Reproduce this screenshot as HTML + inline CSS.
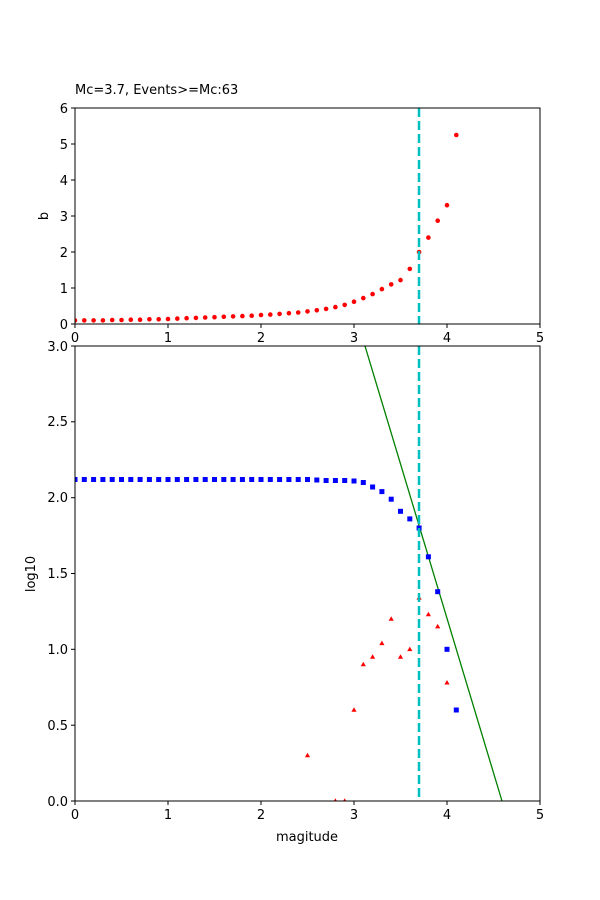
<!DOCTYPE html>
<html><head><meta charset="utf-8"><style>html,body{margin:0;padding:0;background:#fff}svg{display:block}text{font-family:"DejaVu Sans","Liberation Sans",sans-serif;font-size:13px;fill:#000}</style></head>
<body>
<svg width="600" height="900" viewBox="0 0 600 900" xmlns="http://www.w3.org/2000/svg">
<defs>
<marker id="dot" markerUnits="userSpaceOnUse" markerWidth="8" markerHeight="8" refX="4" refY="4" overflow="visible"><circle cx="4" cy="4" r="2.3" fill="#f00"/></marker>
<marker id="sq" markerUnits="userSpaceOnUse" markerWidth="8" markerHeight="8" refX="4" refY="4" overflow="visible"><rect x="1.5" y="1.5" width="5" height="5" fill="#00f"/></marker>
<marker id="tri" markerUnits="userSpaceOnUse" markerWidth="8" markerHeight="8" refX="4" refY="4" overflow="visible"><polygon points="4,1.3 6.6,5.8 1.4,5.8" fill="#f00"/></marker>
<clipPath id="c1"><rect x="75" y="108" width="465" height="216"/></clipPath>
<clipPath id="c2"><rect x="75" y="346" width="465" height="455"/></clipPath>
</defs>

<!-- top axes -->
<text x="75" y="94">Mc=3.7, Events&gt;=Mc:63</text>
<polyline fill="none" stroke="none" marker-start="url(#dot)" marker-mid="url(#dot)" marker-end="url(#dot)" clip-path="url(#c1)" points="75,320.4 84.3,320.4 93.6,320.4 102.9,320.4 112.2,320 121.5,320 130.8,319.7 140.1,319.7 149.4,319.3 158.7,319.3 168,319 177.3,318.6 186.6,318.2 195.9,317.9 205.2,317.5 214.5,317.2 223.8,316.8 233.1,316.4 242.4,316.1 251.7,315.7 261,315 270.3,314.6 279.6,313.9 288.9,313.2 298.2,312.5 307.5,311.4 316.8,310.3 326.1,308.9 335.4,307.1 344.7,304.9 354,301.7 363.3,298.1 372.6,294.1 381.9,289.1 391.2,284.4 400.5,280.1 409.8,268.9 419.1,252 428.4,237.6 437.7,220.7 447,205.2 456.3,135"/>
<line x1="419" y1="108" x2="419" y2="324" stroke="#00bfbf" stroke-width="2.5" stroke-dasharray="9,4"/>
<rect x="75" y="108" width="465" height="216" fill="none" stroke="#000" stroke-width="1"/>
<g stroke="#000">
<line x1="75" y1="324" x2="75" y2="328"/><line x1="168" y1="324" x2="168" y2="328"/><line x1="261" y1="324" x2="261" y2="328"/><line x1="354" y1="324" x2="354" y2="328"/><line x1="447" y1="324" x2="447" y2="328"/><line x1="540" y1="324" x2="540" y2="328"/>
<line x1="71" y1="324" x2="75" y2="324"/><line x1="71" y1="288" x2="75" y2="288"/><line x1="71" y1="252" x2="75" y2="252"/><line x1="71" y1="216" x2="75" y2="216"/><line x1="71" y1="180" x2="75" y2="180"/><line x1="71" y1="144" x2="75" y2="144"/><line x1="71" y1="108" x2="75" y2="108"/>
</g>
<g text-anchor="middle">
<text x="75" y="342">0</text><text x="168" y="342">1</text><text x="261" y="342">2</text><text x="354" y="342">3</text><text x="447" y="342">4</text><text x="540" y="342">5</text>
</g>
<g text-anchor="end">
<text x="68" y="329">0</text><text x="68" y="293">1</text><text x="68" y="257">2</text><text x="68" y="221">3</text><text x="68" y="185">4</text><text x="68" y="149">5</text><text x="68" y="113">6</text>
</g>
<text transform="translate(48,216) rotate(-90)" text-anchor="middle">b</text>

<!-- bottom axes -->
<g clip-path="url(#c2)">
<line x1="365" y1="346" x2="502" y2="801" stroke="#008000" stroke-width="1.3"/>
<polyline fill="none" stroke="none" marker-start="url(#sq)" marker-mid="url(#sq)" marker-end="url(#sq)" points="75,479.5 84.3,479.5 93.6,479.5 102.9,479.5 112.2,479.5 121.5,479.5 130.8,479.5 140.1,479.5 149.4,479.5 158.7,479.5 168,479.5 177.3,479.5 186.6,479.5 195.9,479.5 205.2,479.5 214.5,479.5 223.8,479.5 233.1,479.5 242.4,479.5 251.7,479.5 261,479.5 270.3,479.5 279.6,479.5 288.9,479.5 298.2,479.5 307.5,479.5 316.8,480 326.1,480.5 335.4,480.5 344.7,480.5 354,481 363.3,482.5 372.6,487 381.9,491.6 391.2,499.2 400.5,511.3 409.8,518.9 419.1,528 428.4,556.8 437.7,591.7 447,649.3 456.3,710"/>
<polyline fill="none" stroke="none" marker-start="url(#tri)" marker-mid="url(#tri)" marker-end="url(#tri)" points="307.5,755.5 335.4,801 344.7,801 354,710 363.3,664.5 372.6,657 381.9,643.3 391.2,619 400.5,657 409.8,649.3 419.1,597.8 428.4,614.4 437.7,626.6 447,682.7"/>
</g>
<line x1="419" y1="346" x2="419" y2="801" stroke="#00bfbf" stroke-width="2.5" stroke-dasharray="9,4"/>
<rect x="75" y="346" width="465" height="455" fill="none" stroke="#000" stroke-width="1"/>
<g stroke="#000">
<line x1="75" y1="801" x2="75" y2="805"/><line x1="168" y1="801" x2="168" y2="805"/><line x1="261" y1="801" x2="261" y2="805"/><line x1="354" y1="801" x2="354" y2="805"/><line x1="447" y1="801" x2="447" y2="805"/><line x1="540" y1="801" x2="540" y2="805"/>
<line x1="71" y1="801" x2="75" y2="801"/><line x1="71" y1="725.2" x2="75" y2="725.2"/><line x1="71" y1="649.3" x2="75" y2="649.3"/><line x1="71" y1="573.5" x2="75" y2="573.5"/><line x1="71" y1="497.7" x2="75" y2="497.7"/><line x1="71" y1="421.8" x2="75" y2="421.8"/><line x1="71" y1="346" x2="75" y2="346"/>
</g>
<g text-anchor="middle">
<text x="75" y="819">0</text><text x="168" y="819">1</text><text x="261" y="819">2</text><text x="354" y="819">3</text><text x="447" y="819">4</text><text x="540" y="819">5</text>
</g>
<g text-anchor="end">
<text x="68" y="806">0.0</text><text x="68" y="730">0.5</text><text x="68" y="654">1.0</text><text x="68" y="578">1.5</text><text x="68" y="502">2.0</text><text x="68" y="426">2.5</text><text x="68" y="351">3.0</text>
</g>
<text x="307" y="841" text-anchor="middle">magitude</text>
<text transform="translate(35,574) rotate(-90)" text-anchor="middle">log10</text>
</svg>
</body></html>
